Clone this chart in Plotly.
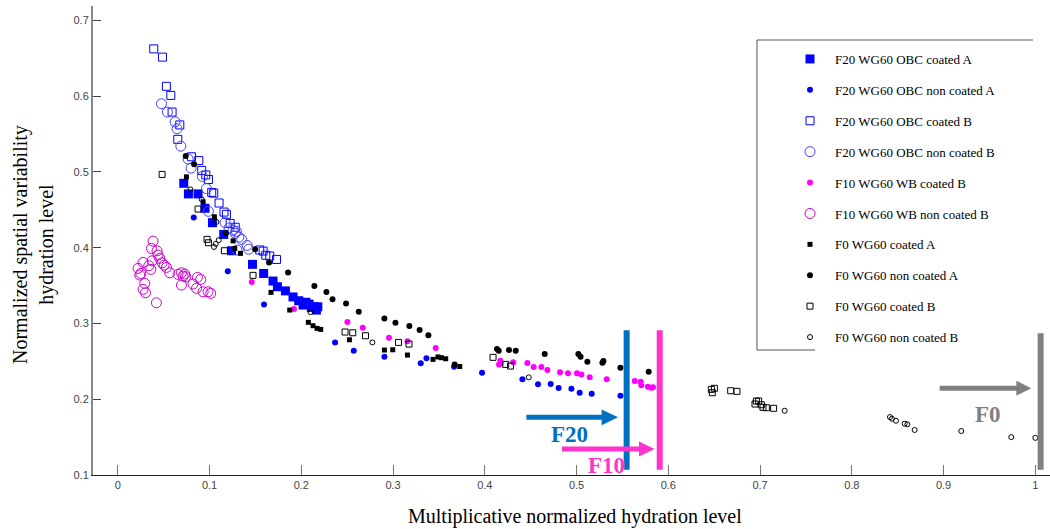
import plotly.graph_objects as go

# ---------------- data ----------------
f20_obc_coated_a_x = [0.0719, 0.077, 0.0875, 0.0951, 0.1032, 0.1155, 0.124, 0.1468, 0.159, 0.1692, 0.174,
                      0.1827, 0.191, 0.1972, 0.202, 0.205, 0.2085, 0.211, 0.214, 0.2165, 0.218]
f20_obc_coated_a_y = [0.485, 0.471, 0.471, 0.452, 0.433, 0.4175, 0.396, 0.378, 0.366, 0.356, 0.3485,
                      0.343, 0.335, 0.330, 0.3243, 0.328, 0.3256, 0.321, 0.322, 0.3177, 0.322]

f20_obc_noncoated_a_x = [0.0828, 0.1199, 0.1594, 0.2368, 0.2572, 0.2906, 0.3302, 0.3364, 0.3665, 0.397,
                         0.441, 0.458, 0.4718, 0.4805, 0.4944, 0.5034, 0.5165, 0.5478]
f20_obc_noncoated_a_y = [0.440, 0.369, 0.325, 0.275, 0.264, 0.2561, 0.2474, 0.254, 0.243, 0.235,
                         0.2263, 0.2197, 0.220, 0.2148, 0.2139, 0.2086, 0.2073, 0.2046]

f20_obc_coated_b_x = [0.0392, 0.0487, 0.0530, 0.0578, 0.0592, 0.0676, 0.0654, 0.0803, 0.0883, 0.0915, 0.0959,
                      0.0988, 0.1024, 0.1046, 0.1104, 0.1158, 0.1184, 0.1225, 0.128, 0.1547, 0.1584,
                      0.1613, 0.1656, 0.173]
f20_obc_coated_b_y = [0.6624, 0.6515, 0.613, 0.601, 0.579, 0.562, 0.543, 0.520, 0.515, 0.502, 0.496,
                      0.490, 0.473, 0.472, 0.459, 0.447, 0.444, 0.432, 0.427, 0.397, 0.3955,
                      0.390, 0.389, 0.3845]

f20_obc_noncoated_b_x = [0.0476, 0.0541, 0.0625, 0.0646, 0.0687, 0.0767, 0.0799, 0.0923, 0.0966, 0.0988,
                         0.117, 0.1213, 0.1257, 0.128, 0.1293, 0.132, 0.135, 0.130, 0.141, 0.1427]
f20_obc_noncoated_b_y = [0.590, 0.579, 0.566, 0.557, 0.534, 0.517, 0.505, 0.494, 0.478, 0.448,
                         0.433, 0.426, 0.423, 0.419, 0.4215, 0.414, 0.411, 0.397, 0.403, 0.398]

f10_wb_coated_b_x = [0.146, 0.192, 0.2503, 0.267, 0.2956, 0.3157, 0.3465, 0.417, 0.4155, 0.4173, 0.431,
                     0.4464, 0.4533, 0.4617, 0.4682, 0.482, 0.4907, 0.5005, 0.5053, 0.5143, 0.5329,
                     0.5634, 0.5699, 0.5706, 0.5778, 0.5815, 0.5833]
f10_wb_coated_b_y = [0.3546, 0.319, 0.3018, 0.2943, 0.2811, 0.2764, 0.2675, 0.2508, 0.246, 0.2474, 0.2487,
                     0.2478, 0.2426, 0.2426, 0.2385, 0.2355, 0.2342, 0.2342, 0.2328, 0.2289, 0.2263,
                     0.224, 0.2231, 0.2183, 0.2165, 0.2152, 0.2157]

f10_wb_noncoated_b_x = [0.0385, 0.0367, 0.0428, 0.0439, 0.0458, 0.0483, 0.0505, 0.0531, 0.0374, 0.0276,
                        0.0338, 0.0221, 0.0251, 0.024, 0.036, 0.0567, 0.0657, 0.0694, 0.0712, 0.073,
                        0.0741, 0.0694, 0.082, 0.0868, 0.0904, 0.0858, 0.093, 0.0984, 0.1013, 0.0294,
                        0.0276, 0.0302, 0.0421]
f10_wb_noncoated_b_y = [0.4087, 0.399, 0.3959, 0.3902, 0.3859, 0.380, 0.377, 0.374, 0.3827, 0.3806,
                        0.3762, 0.3727, 0.366, 0.3639, 0.3714, 0.3669, 0.3648, 0.3669, 0.3625, 0.3652,
                        0.3616, 0.3507, 0.352, 0.3608, 0.3582, 0.3463, 0.3418, 0.3418, 0.3397, 0.3529,
                        0.345, 0.3405, 0.3273]

f0_coated_a_x = [0.0748, 0.093, 0.1053, 0.1257, 0.1275, 0.1337, 0.167, 0.1874, 0.2077, 0.2128, 0.2172,
                 0.2212, 0.2525, 0.2906, 0.2997, 0.3157, 0.3436, 0.349, 0.3527, 0.3574, 0.3727]
f0_coated_a_y = [0.4935, 0.4606, 0.4408, 0.409, 0.399, 0.3925, 0.341, 0.3177, 0.3015, 0.297, 0.2935,
                 0.2922, 0.2785, 0.2649, 0.2653, 0.2583, 0.2526, 0.2558, 0.2548, 0.2534, 0.2432]

f0_noncoated_a_x = [0.0741, 0.0832, 0.1177, 0.1497, 0.1649, 0.1856, 0.2143, 0.2274, 0.234, 0.2488, 0.2626,
                    0.2906, 0.3026, 0.3178, 0.329, 0.3385, 0.3672, 0.4133, 0.4152, 0.4264, 0.4337,
                    0.4653, 0.502, 0.5044, 0.5118, 0.5282, 0.5293, 0.5478, 0.5786]
f0_noncoated_a_y = [0.521, 0.510, 0.419, 0.398, 0.3806, 0.3674, 0.3494, 0.3414, 0.332, 0.3265, 0.3155,
                    0.3067, 0.301, 0.2966, 0.2913, 0.2843, 0.246, 0.2662, 0.264, 0.2649, 0.264,
                    0.2596, 0.2596, 0.2561, 0.2495, 0.2481, 0.2504, 0.2416, 0.2363]

f0_coated_b_x = [0.0483, 0.0875, 0.0973, 0.0988, 0.1162, 0.1474, 0.2477, 0.2561, 0.270, 0.306, 0.3174,
                 0.409, 0.4228, 0.428, 0.6469, 0.6502, 0.648, 0.668, 0.6748, 0.6945, 0.696, 0.6985,
                 0.7014, 0.7032, 0.7069, 0.7148]
f0_coated_b_y = [0.4967, 0.451, 0.411, 0.4065, 0.396, 0.3635, 0.2887, 0.2877, 0.2838, 0.275, 0.2728,
                 0.2553, 0.246, 0.2438, 0.2130, 0.2144, 0.2086, 0.2112, 0.2104, 0.1937, 0.1976, 0.1976,
                 0.1927, 0.1893, 0.1888, 0.188]

f0_noncoated_b_x = [0.0792, 0.0915, 0.1075, 0.110, 0.1068, 0.1049, 0.21, 0.2775, 0.4479, 0.7268, 0.8416,
                    0.8437, 0.8481, 0.8576, 0.8605, 0.8685, 0.9193, 0.9738, 1.0]
f0_noncoated_b_y = [0.477, 0.4637, 0.434, 0.410, 0.405, 0.401, 0.315, 0.275, 0.2289, 0.1848, 0.1765,
                    0.1743, 0.1716, 0.1677, 0.1669, 0.1594, 0.158, 0.150, 0.149]

series_names = ["F20 WG60 OBC coated A", "F20 WG60 OBC non coated A", "F20 WG60 OBC coated B",
                "F20 WG60 OBC non coated B", "F10 WG60 WB coated B", "F10 WG60 WB non coated B",
                "F0 WG60 coated A", "F0 WG60 non coated A", "F0 WG60 coated B", "F0 WG60 non coated B"]

x_ticks = [0, 0.1, 0.2, 0.3, 0.4, 0.5, 0.6, 0.7, 0.8, 0.9, 1]
y_ticks = [0.1, 0.2, 0.3, 0.4, 0.5, 0.6, 0.7]

x_title = "Multiplicative normalized hydration level"
y_title = "Normalized spatial variability<br>hydration level"

# ---------------- styles ----------------
series = [
    (f20_obc_coated_a_x, f20_obc_coated_a_y, dict(symbol="square", size=9, color="#0000FF")),
    (f20_obc_noncoated_a_x, f20_obc_noncoated_a_y, dict(symbol="circle", size=6, color="#0000FF")),
    (f20_obc_coated_b_x, f20_obc_coated_b_y, dict(symbol="square-open", size=8, color="#0000FF",
                                                 line=dict(width=1, color="#0000FF"))),
    (f20_obc_noncoated_b_x, f20_obc_noncoated_b_y, dict(symbol="circle-open", size=10, color="#4040FF",
                                                       line=dict(width=1, color="#4040FF"))),
    (f10_wb_coated_b_x, f10_wb_coated_b_y, dict(symbol="circle", size=6, color="#FF00FF")),
    (f10_wb_noncoated_b_x, f10_wb_noncoated_b_y, dict(symbol="circle-open", size=10, color="#CC00CC",
                                                     line=dict(width=1, color="#CC00CC"))),
    (f0_coated_a_x, f0_coated_a_y, dict(symbol="square", size=5, color="#000000")),
    (f0_noncoated_a_x, f0_noncoated_a_y, dict(symbol="circle", size=6, color="#000000")),
    (f0_coated_b_x, f0_coated_b_y, dict(symbol="square-open", size=6, color="#000000",
                                       line=dict(width=1, color="#000000"))),
    (f0_noncoated_b_x, f0_noncoated_b_y, dict(symbol="circle-open", size=5, color="#000000",
                                             line=dict(width=1, color="#000000"))),
]

fig = go.Figure()
for i, (xs, ys, mk) in enumerate(series):
    fig.add_trace(go.Scatter(x=xs, y=ys, mode="markers", name=series_names[i], marker=mk,
                             legendgroup=f"g{i}"))

# ---------------- F markers (arrows and limit lines) ----------------
def limit(fig, xline, ytop, ybot, color, width, sx0, sx1, hx0, hx1, ay, hh, label, lx, ly):
    fig.add_shape(type="line", x0=xline, x1=xline, y0=ybot, y1=ytop, xref="x", yref="y",
                  line=dict(color=color, width=width))
    fig.add_shape(type="line", x0=sx0, x1=sx1, y0=ay, y1=ay, xref="x", yref="y",
                  line=dict(color=color, width=5))
    fig.add_shape(type="path", xref="x", yref="y",
                  path=f"M {hx0} {ay + hh} L {hx1} {ay} L {hx0} {ay - hh} Z",
                  fillcolor=color, line=dict(color=color, width=0))
    fig.add_annotation(x=lx, y=ly, xref="x", yref="y", text=f"<b>{label}</b>", showarrow=False,
                       font=dict(family="Liberation Serif", size=23, color=color))

limit(fig, 0.5546, 0.291, 0.107, "#0070C0", 6, 0.4453, 0.530, 0.5273, 0.5452, 0.1761, 0.0104, "F20", 0.4918, 0.1528)
limit(fig, 0.5906, 0.291, 0.107, "#FF33CC", 6, 0.4841, 0.570, 0.5681, 0.5851, 0.1343, 0.0099, "F10", 0.5329, 0.1132)
limit(fig, 1.0058, 0.287, 0.107, "#808080", 6, 0.8957, 0.981, 0.9793, 0.9956, 0.2146, 0.0099, "F0", 0.9487, 0.1792)

# ---------------- legend frame (partial, as in reference) ----------------
frame = dict(color="#555555", width=1)
fig.add_shape(type="line", xref="paper", yref="paper", x0=0.6938, x1=0.9822, y0=0.9275, y1=0.9275, line=frame)
fig.add_shape(type="line", xref="paper", yref="paper", x0=0.6938, x1=0.6938, y0=0.2665, y1=0.9275, line=frame)
fig.add_shape(type="line", xref="paper", yref="paper", x0=0.6938, x1=0.7545, y0=0.2665, y1=0.2665, line=frame)

# ---------------- axis titles ----------------
title_font = dict(family="Liberation Serif", size=20, color="#000000")
fig.add_annotation(text=x_title, xref="paper", yref="paper", x=(575 - 93) / 957, y=(475 - 516) / 469,
                   xanchor="center", yanchor="middle", showarrow=False, font=title_font)
fig.add_annotation(text=y_title, xref="paper", yref="paper", x=(33 - 93) / 957, y=(475 - 245) / 469,
                   xanchor="center", yanchor="middle", showarrow=False, textangle=-90, font=title_font)

tick_font = dict(family="Liberation Sans", size=11, color="#444444")
fig.update_layout(
    width=1050, height=529,
    margin=dict(l=93, r=0, t=6, b=54, autoexpand=False),
    paper_bgcolor="white", plot_bgcolor="white",
    showlegend=True,
    legend=dict(x=(785 - 93) / 957, y=(475 - 44) / 469, xanchor="left", yanchor="top",
                bgcolor="rgba(0,0,0,0)", borderwidth=0, tracegroupgap=11,
                font=dict(family="Liberation Serif", size=13, color="#000000"),
                itemsizing="trace", itemwidth=40),
    xaxis=dict(range=[-0.027, 1.016], tickvals=x_ticks, ticktext=[f"{v:g}" for v in x_ticks],
               ticks="inside", ticklen=10, tickcolor="#777777", tickwidth=1,
               showline=True, linecolor="#222222", linewidth=1, showgrid=False, zeroline=False,
               tickfont=tick_font, automargin=False),
    yaxis=dict(range=[0.1, 0.719], tickvals=y_ticks, ticktext=[f"{v:g}" for v in y_ticks],
               ticks="inside", ticklen=8, tickcolor="#444444", tickwidth=1,
               showline=True, linecolor="#888888", linewidth=2, showgrid=False, zeroline=False,
               tickfont=tick_font, automargin=False),
)

fig.write_html("out.html", config={"displayModeBar": False},
               post_script="document.body.style.margin='0px';")
